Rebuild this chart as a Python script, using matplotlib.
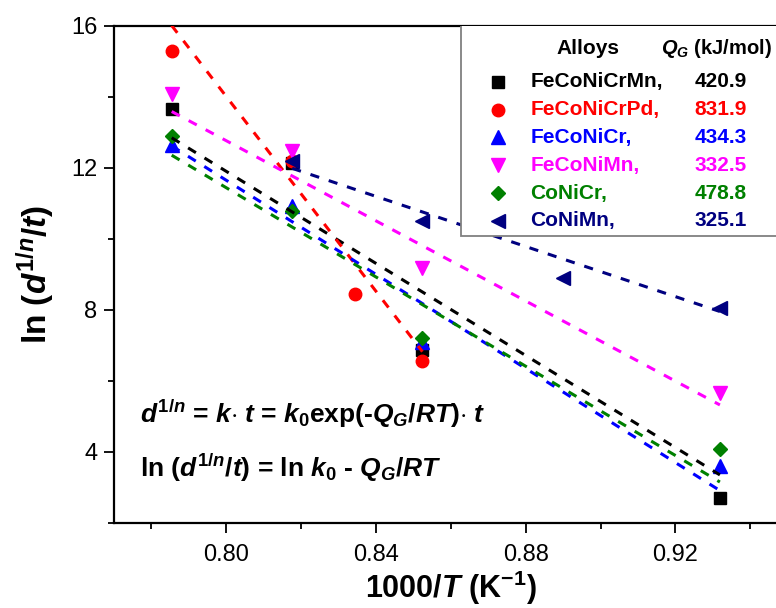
import matplotlib
matplotlib.use("Agg")
import matplotlib.pyplot as plt
from matplotlib.patches import Rectangle
from matplotlib.ticker import MultipleLocator, FormatStrFormatter

plt.rcParams["font.family"] = "Liberation Sans"
plt.rcParams["mathtext.fontset"] = "custom"
plt.rcParams["mathtext.rm"] = "Liberation Sans:bold"
plt.rcParams["mathtext.it"] = "Liberation Sans:bold:italic"
plt.rcParams["mathtext.bf"] = "Liberation Sans:bold"

# 1000/T values
x_four = [0.7854, 0.8176, 0.8524, 0.9319]
x_pd = [0.7854, 0.8176, 0.8345, 0.8524]
x_conimn = [0.8176, 0.8524, 0.8899, 0.9319]

# ln(d^(1/n)/t)
y_fecocrmn = [13.64, 12.12, 6.88, 2.70]
y_fecocrpd = [15.29, 12.20, 8.43, 6.57]
y_fecocr = [12.63, 10.92, 7.09, 3.61]
y_feconimn = [14.08, 12.47, 9.17, 5.67]
y_conicr = [12.89, 10.78, 7.21, 4.08]
y_conimn = [12.19, 10.50, 8.89, 8.04]

# dashed fit lines (end points)
fit_x_four = [0.7854, 0.9319]
fit_x_pd = [0.7854, 0.8524]
fit_x_conimn = [0.8176, 0.9319]
fit_fecocrmn = [12.84, 3.35]
fit_fecocrpd = [16.0, 6.82]
fit_fecocr = [12.61, 2.91]
fit_feconimn = [13.58, 5.32]
fit_conicr = [12.35, 3.15]
fit_conimn = [11.98, 7.95]

alloys = ["FeCoNiCrMn", "FeCoNiCrPd", "FeCoNiCr", "FeCoNiMn", "CoNiCr", "CoNiMn"]
q_values = ["420.9", "831.9", "434.3", "332.5", "478.8", "325.1"]

series = [
    (x_four, y_fecocrmn, fit_x_four, fit_fecocrmn),
    (x_pd, y_fecocrpd, fit_x_pd, fit_fecocrpd),
    (x_four, y_fecocr, fit_x_four, fit_fecocr),
    (x_four, y_feconimn, fit_x_four, fit_feconimn),
    (x_four, y_conicr, fit_x_four, fit_conicr),
    (x_conimn, y_conimn, fit_x_conimn, fit_conimn),
]
colors = ["#000000", "#ff0000", "#0000ff", "#ff00ff", "#008000", "#000080"]
markers = ["s", "o", "^", "v", "D", "<"]
msizes = [8, 9, 10.5, 10.5, 7.5, 10]

fig = plt.figure(figsize=(7.76, 6.08), dpi=100)
ax = fig.add_axes([0.147, 0.140, 0.868, 0.818])

for (xs, ys, fx, fy), c, m, ms in zip(series, colors, markers, msizes):
    ax.plot(xs, ys, linestyle="none", marker=m, ms=ms, color=c, zorder=2)
    ax.plot(fx, fy, color=c, lw=2.2, dashes=(3, 3.3), zorder=3)

ax.set_xlim(0.77, 0.95)
ax.set_ylim(2, 16)
ax.set_xticks([0.80, 0.84, 0.88, 0.92])
ax.set_yticks([4, 8, 12, 16])
ax.xaxis.set_minor_locator(MultipleLocator(0.02))
ax.yaxis.set_minor_locator(MultipleLocator(2))
ax.xaxis.set_major_formatter(FormatStrFormatter("%.2f"))
ax.tick_params(which="major", direction="out", length=7, width=1.3, labelsize=17, pad=5)
ax.tick_params(axis="x", which="major", pad=8)
ax.tick_params(which="minor", direction="out", length=4, width=1.3)
for sp in ax.spines.values():
    sp.set_linewidth(1.6)

ax.set_xlabel("1000/$T$ (K$^{-1}$)", fontsize=22, fontweight="bold", labelpad=2)
ax.set_ylabel("ln ($d^{1/n}$/$t$)", fontsize=24, fontweight="bold", labelpad=10)

# legend table
ax.add_patch(Rectangle((0.515, 0.577), 0.6, 0.5, transform=ax.transAxes,
                       facecolor="white", edgecolor="#808080", lw=1.3, zorder=4))
ax.text(0.704, 0.953, "Alloys", transform=ax.transAxes, fontsize=15,
        fontweight="bold", ha="center", va="center", zorder=5)
ax.text(0.812, 0.953, "$Q_G$ (kJ/mol)", transform=ax.transAxes, fontsize=14.5,
        fontweight="bold", ha="left", va="center", zorder=5)
for i, (name, q, c, m, ms) in enumerate(zip(alloys, q_values, colors, markers, msizes)):
    yy = 0.887 - 0.056 * i
    ax.plot([0.570], [yy], marker=m, ms=ms, color=c, transform=ax.transAxes,
            clip_on=False, zorder=5)
    ax.text(0.618, yy, name + ",", transform=ax.transAxes, fontsize=15,
            fontweight="bold", color=c, ha="left", va="center", zorder=5)
    ax.text(0.901, yy, q, transform=ax.transAxes, fontsize=15,
            fontweight="bold", color=c, ha="center", va="center", zorder=5)

ax.text(0.0386, 0.201, r"$d^{1/n}$ = $k$$\cdot$ $t$ = $k_0$exp(-$Q_G$/$RT$)$\cdot$ $t$",
        transform=ax.transAxes, fontsize=19, fontweight="bold", va="baseline")
ax.text(0.0386, 0.0925, r"ln ($d^{1/n}$/$t$) = ln $k_0$ - $Q_G$/$RT$",
        transform=ax.transAxes, fontsize=19, fontweight="bold", va="baseline")

fig.savefig("out.png", dpi=100)
